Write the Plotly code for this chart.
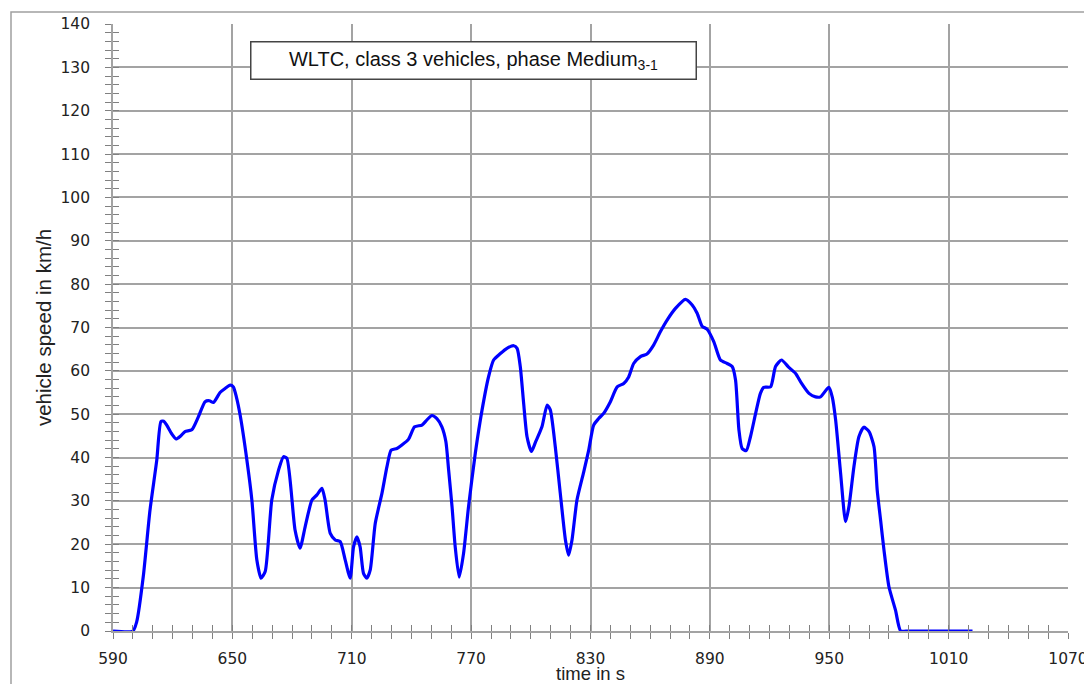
import plotly.graph_objects as go

# time in s
time_s = [590, 600, 601.9, 605.2, 608.6, 612, 614.1, 615.5, 617, 619.5, 621.7, 624, 626.2, 629.6,
          632.9, 636.3, 638.5, 640.5, 643.8, 646.5, 648.9, 650.5, 652, 653.9, 657.3, 659.8, 662.3,
          664.4, 666.5, 669.8, 673.2, 675.7, 677.4, 681.5, 684, 686.6, 690, 692.5, 695, 696.6,
          699.2, 701.7, 704.2, 706.7, 709.2, 710.9, 712.6, 714.2, 715.9, 717.6, 719.3, 721.8,
          725.2, 727.7, 729.8, 732.7, 735.2, 738.5, 741.6, 745.3, 747.8, 750.3, 752.8, 755.3,
          757.3, 758.7, 760.4, 762, 764, 766.2, 768.7, 772.1, 775.5, 778.8, 781.3, 784.7, 788,
          791.4, 793.1, 794.7, 796.4, 798.1, 800.3, 802.3, 805.6, 808.2, 809.8, 812.3, 814.8,
          817.4, 819, 820.7, 823.2, 826.6, 829.1, 831.6, 834.1, 836.6, 840, 843.4, 846.7, 849.2,
          851.7, 855.1, 858.4, 861.8, 865.1, 868.5, 872.7, 877.7, 881.1, 883.6, 886.1, 888.6,
          892, 895.3, 898.7, 901.2, 902.9, 904.6, 906.2, 908.3, 910.4, 913, 915.4, 917.1, 920.5,
          923, 926, 929.7, 933.1, 936.1, 939.8, 943.1, 945.6, 949.8, 951.5, 953.2, 955.7, 958.2,
          959.9, 962.4, 964.9, 967.4, 970, 972.5, 974.1, 975.8, 977.5, 980, 983.3, 985.9, 990, 1022]

# vehicle speed in km/h
speed_kmh = [0, 0, 2.1, 12.5, 27.9, 39.4, 48.3, 48.4, 47.5, 45.5, 44.3, 45, 46, 46.4,
             49.4, 52.9, 53.1, 52.7, 55, 56, 56.7, 56.3, 54, 49.8, 39.4, 30.2, 16.4,
             12.2, 13.7, 30.2, 37.1, 40.2, 39.8, 23.3, 19.1, 24.1, 30.2, 31.4, 32.9, 30.2,
             22.5, 21, 20.6, 16.4, 12.2, 19.4, 21.7, 19.4, 13.3, 12.2, 14.1, 24.8,
             31.8, 37.9, 41.7, 42.1, 42.9, 44.2, 47.1, 47.5, 48.7, 49.7, 49, 47.1,
             43.7, 37.1, 28.7, 19.4, 12.4, 17.9, 28.7, 41, 51, 58.7, 62.5, 64, 65.2,
             65.8, 65.2, 61, 52.5, 44.8, 41.4, 43.5, 47.1, 52.1, 51, 42.5, 31.8,
             21, 17.5, 21, 30.2, 36.7, 41.7, 47.5, 49, 50.2, 52.9, 56.3, 57.1, 58.6,
             61.7, 63.3, 63.9, 66, 69, 71.7, 74.4, 76.5, 75.2, 73.3, 70.3, 69.6,
             66.7, 62.5, 61.7, 61, 57.9, 46.4, 42.1, 41.6, 44.8, 50.2, 54.8, 56.2, 56.3,
             61, 62.5, 60.8, 59.4, 57.1, 54.8, 54, 54, 56.2, 54, 48.7, 36.4, 25.2,
             28.7, 37.9, 44.8, 47, 46, 42.5, 32.5, 25.6, 18.7, 10.2, 4.8, 0, 0, 0]

x_ticks = [590, 650, 710, 770, 830, 890, 950, 1010, 1070]
y_ticks = [0, 10, 20, 30, 40, 50, 60, 70, 80, 90, 100, 110, 120, 130, 140]

GRID = "#a3a3a3"
TICKC = "#808080"

fig = go.Figure()
fig.add_trace(go.Scatter(x=time_s, y=speed_kmh, mode="lines",
                         line=dict(color="#0000ff", width=3.2, shape="spline", smoothing=0.6),
                         showlegend=False, hoverinfo="x+y"))
# helper trace for the crossing inner ticks
fig.add_trace(go.Scatter(x=[None], y=[None], xaxis="x2", yaxis="y2", showlegend=False,
                         hoverinfo="skip"))

tickfont = dict(family="DejaVu Sans", size=15.5, color="#222222")
fig.update_layout(
    width=1084, height=684,
    margin=dict(l=113, r=16, t=24, b=53),
    paper_bgcolor="white", plot_bgcolor="white",
    xaxis=dict(range=[590, 1070], tickvals=x_ticks, ticktext=[str(v) for v in x_ticks],
               automargin=False, ticklabeloverflow="allow",
               showgrid=True, gridcolor=GRID, gridwidth=1.6, zeroline=False,
               showline=True, linecolor=GRID, linewidth=1.6,
               ticks="outside", ticklen=6, tickcolor=TICKC, tickwidth=1.2,
               minor=dict(dtick=10, tick0=590, ticks="outside", ticklen=6, tickcolor=TICKC,
                          tickwidth=1.2, showgrid=False),
               tickfont=tickfont, ticklabelstandoff=7,
               title=dict(text="time in s", font=dict(family="Liberation Sans", size=18.5,
                                                      color="#222222"), standoff=3)),
    yaxis=dict(range=[0, 140], tickvals=y_ticks, automargin=False, ticklabeloverflow="allow",
               showgrid=True, gridcolor=GRID, gridwidth=1.6, zeroline=False,
               showline=True, linecolor=GRID, linewidth=1.6,
               ticks="outside", ticklen=6, tickcolor=TICKC, tickwidth=1.2,
               minor=dict(dtick=2, ticks="outside", ticklen=6, tickcolor=TICKC,
                          tickwidth=1.2, showgrid=False),
               tickfont=tickfont, ticklabelstandoff=12,
               title=dict(text="vehicle speed in km/h",
                          font=dict(family="Liberation Sans", size=20.5, color="#222222"),
                          standoff=3)),
    xaxis2=dict(range=[590, 1070], overlaying="x", tickvals=x_ticks, showticklabels=False,
                automargin=False,
                showgrid=False, zeroline=False, showline=False,
                ticks="inside", ticklen=6, tickcolor=TICKC, tickwidth=1.2,
                minor=dict(dtick=10, tick0=590, ticks="inside", ticklen=6, tickcolor=TICKC,
                           tickwidth=1.2, showgrid=False)),
    yaxis2=dict(range=[0, 140], overlaying="y", tickvals=y_ticks, showticklabels=False,
                automargin=False,
                showgrid=False, zeroline=False, showline=False, side="left",
                ticks="inside", ticklen=6, tickcolor=TICKC, tickwidth=1.2,
                minor=dict(dtick=2, ticks="inside", ticklen=6, tickcolor=TICKC,
                           tickwidth=1.2, showgrid=False)),
)

# outer frame of the figure
fig.add_shape(type="rect", xref="paper", yref="paper",
              x0=(11 - 113) / 955, x1=1.2, y0=-0.3, y1=(631 - 12) / 607,
              line=dict(color="#a0a0a0", width=1.5), fillcolor="rgba(0,0,0,0)", layer="below")

# title box
fig.add_annotation(xref="paper", yref="paper", x=(250 - 113) / 955, y=(631 - 41) / 607,
                   xanchor="left", yanchor="top",
                   text="WLTC, class 3 vehicles, phase Medium<sub>3-1</sub>",
                   showarrow=False, align="center",
                   font=dict(family="Liberation Sans", size=20, color="#111111"),
                   bgcolor="white", bordercolor="#444444", borderwidth=1.5,
                   width=444, height=36, borderpad=0)

fig.write_html("out.html", config={"displayModeBar": False},
               post_script="document.body.style.margin='0';"
                           "document.body.style.overflow='hidden';")
